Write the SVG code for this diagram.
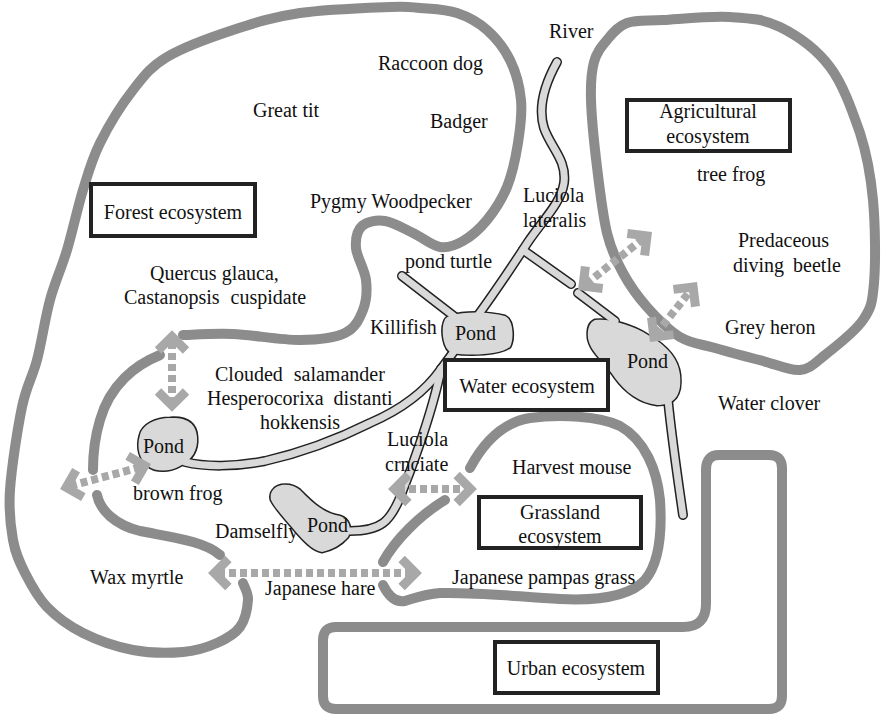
<svg xmlns="http://www.w3.org/2000/svg" xmlns:xlink="http://www.w3.org/1999/xlink" width="883" height="718" viewBox="0 0 883 718">
  <style>
    .bd { fill: none; stroke: #8c8c8c; stroke-width: 10; stroke-linecap: round; stroke-linejoin: round; }
    .box { fill: #fff; stroke: #222; stroke-width: 4; }
    .chO { fill: none; stroke: #222; stroke-width: 10; stroke-linecap: round; stroke-linejoin: round; }
    .chF { fill: none; stroke: #d9d9d9; stroke-width: 7; stroke-linecap: round; stroke-linejoin: round; }
    .pondO { fill: #d9d9d9; stroke: #222; stroke-width: 3; }
    .pondF { fill: #d9d9d9; stroke: none; }
    .dash { fill: none; stroke: #a8a8a8; stroke-width: 8; stroke-dasharray: 7 4; }
    .head { fill: none; stroke: #a8a8a8; stroke-width: 9; stroke-linejoin: miter; }
    .t { font-family: "Liberation Serif", "Times New Roman", serif; font-size: 20px; fill: #111; }
    .c { text-anchor: middle; }
  </style>
  <defs>
    <path id="chev" d="M-14,-14 L0,0 L-14,14"/>
    <path id="p1" d="M450,316 C465,311 490,312 505,316 C514,320 514,340 510,347 C500,355 470,356 452,353 C443,350 441,330 444,322 C445,318 447,317 450,316 Z"/>
    <path id="p2" d="M595,320 C610,318 635,326 648,335 C662,343 678,355 680,375 C682,395 675,405 657,405 C640,403 625,392 615,378 C605,362 590,352 588,338 C587,328 590,322 595,320 Z"/>
    <path id="p3" d="M140,435 C142,425 155,418 170,418 C185,417 196,422 197,437 C198,450 192,460 180,466 C170,472 155,472 148,466 C140,460 136,448 140,435 Z"/>
    <path id="p4" d="M273,490 C278,483 292,483 300,490 C310,500 322,513 340,516 C350,519 352,530 348,537 C342,544 332,550 322,552 C312,550 303,540 296,532 C288,522 276,510 271,500 C270,496 271,492 273,490 Z"/>
    <g id="rivers">
      <path d="M557,62 C547,80 537,105 544,128 C551,148 567,160 564,183 C561,203 543,220 528,242 C515,262 495,292 476,318"/>
      <path d="M523,250 L571,284"/>
      <path d="M578,293 L615,321"/>
      <path d="M402,276 L455,317"/>
      <path d="M455,350 L441,369"/>
      <path d="M441,369 C425,392 400,410 370,423 C340,438 300,453 265,461 C235,467 205,467 185,462"/>
      <path d="M441,369 C433,410 412,468 399,500 C390,520 382,531 350,531"/>
      <path d="M668,400 C672,440 678,480 683,515"/>
    </g>
  </defs>

  <!-- Forest ecosystem -->
  <g id="forest">
    <path class="bd" d="M183,335 C191.3,334.8 213.5,333.2 233,334 C252.5,334.8 281.3,340.2 300,340 C318.7,339.8 334.5,338 345,333 C355.5,328 359.5,318.8 363,310 C366.5,301.2 367.2,290.3 366,280 C364.8,269.7 356.7,257 356,248 C355.3,239 357.2,230.5 362,226 C366.8,221.5 376.5,219.8 385,221 C393.5,222.2 403.8,228.7 413,233 C422.2,237.3 431.7,245.7 440,247 C448.3,248.3 455.2,245.5 463,241 C470.8,236.5 479.7,229 487,220 C494.3,211 501.8,199.8 507,187 C512.2,174.2 515.7,157.5 518,143 C520.3,128.5 522.3,113.8 521,100 C519.7,86.2 515.7,71.7 510,60 C504.3,48.3 495.8,37.8 487,30 C478.2,22.2 468.2,16.7 457,13 C445.8,9.3 431.2,9 420,8 C408.8,7 410,6.2 390,7 C370,7.8 326.2,9.2 300,13 C273.8,16.8 255.2,22.7 233,30 C210.8,37.3 183.7,47 167,57 C150.3,67 144.2,75.7 133,90 C121.8,104.3 108.3,126.3 100,143 C91.7,159.7 88.5,172.2 83,190 C77.5,207.8 72.5,231.7 67,250 C61.5,268.3 55,281.7 50,300 C45,318.3 41.7,342.2 37,360 C32.3,377.8 26.5,385.3 22,407 C17.5,428.7 11.5,467.8 10,490 C8.5,512.2 10.5,526.2 13,540 C15.5,553.8 19.3,561.8 25,573 C30.7,584.2 37.3,597 47,607 C56.7,617 68.7,625.8 83,633 C97.3,640.2 116.3,646.8 133,650 C149.7,653.2 169,653.2 183,652 C197,650.8 207.5,647.2 217,643 C226.5,638.8 234.8,634.2 240,627 C245.2,619.8 247.5,607.3 248,600 C248.5,592.7 243.8,585.8 243,583"/>
    <path class="bd" d="M160,355 C135,365 110,385 100,420 C94,440 93,455 93,470"/>
    <path class="bd" d="M97,495 C100,510 115,525 140,531 C170,537 205,541 220,555"/>
    <rect class="box" x="91" y="184" width="164" height="52"/>
    <text class="t c" x="173" y="219">Forest ecosystem</text>
    <text class="t" x="378" y="70">Raccoon dog</text>
    <text class="t" x="253" y="117">Great tit</text>
    <text class="t" x="430" y="128">Badger</text>
    <text class="t" x="310" y="208">Pygmy Woodpecker</text>
    <text class="t" x="150" y="280">Quercus glauca,</text>
    <text class="t" x="124" y="304" word-spacing="6">Castanopsis cuspidate</text>
    <text class="t" x="215" y="381" word-spacing="6">Clouded salamander</text>
    <text class="t" x="207" y="405" word-spacing="5">Hesperocorixa distanti</text>
    <text class="t" x="260" y="429">hokkensis</text>
    <text class="t" x="133" y="500">brown frog</text>
    <text class="t" x="215" y="538">Damselfly</text>
    <text class="t" x="90" y="584">Wax myrtle</text>
    <text class="t" x="265" y="595">Japanese hare</text>
  </g>

  <!-- Agricultural ecosystem -->
  <g id="agricultural">
    <path class="bd" d="M627,23 C636.3,19.7 645.8,21 663,20 C680.2,19 710.5,15.8 730,17 C749.5,18.2 763.3,18.7 780,27 C796.7,35.3 816.7,49.3 830,67 C843.3,84.7 852.2,110.8 860,133 C867.2,155.2 870.7,175 873,200 C875.3,225 875.7,263 874,283 C872.3,303 871.2,308 863,320 C854.8,332 835.5,346.7 825,355 C814.5,363.3 810.3,369 800,370 C789.7,371 777.2,364.7 763,361 C748.8,357.3 728.8,352 715,348 C701.2,344 691.3,343.8 680,337 C668.7,330.2 656.5,317.7 647,307 C637.5,296.3 629.7,285.3 623,273 C616.3,260.7 611.3,250.7 607,233 C602.7,215.3 599.7,189.2 597,167 C594.3,144.8 591.5,117.5 591,100 C590.5,82.5 591.3,72 594,62 C596.7,52 601.5,46.5 607,40 C612.5,33.5 617.7,26.3 627,23 Z"/>
    <rect class="box" x="627" y="100" width="163" height="51"/>
    <text class="t c" x="708" y="118">Agricultural</text>
    <text class="t c" x="708" y="143">ecosystem</text>
    <text class="t" x="697" y="181">tree frog</text>
    <text class="t" x="738" y="247">Predaceous</text>
    <text class="t" x="733" y="272" word-spacing="4">diving beetle</text>
    <text class="t" x="725" y="334">Grey heron</text>
  </g>

  <!-- Grassland ecosystem -->
  <g id="grassland">
    <path class="bd" d="M383,585 C388,595 395,603 405,601 C415,598 425,594 440,593 C480,592 520,597 560,599 C600,601 630,596 645,580 C660,562 662,530 660,500 C657,470 645,440 620,426 C600,416 560,414 530,418 C505,422 485,440 470,468"/>
    <path class="bd" d="M383,562 C395,540 420,515 445,500"/>
    <rect class="box" x="479" y="497" width="162" height="51"/>
    <text class="t c" x="560" y="519">Grassland</text>
    <text class="t c" x="560" y="543">ecosystem</text>
    <text class="t" x="512" y="474">Harvest mouse</text>
    <text class="t" x="452" y="584">Japanese pampas grass</text>
  </g>

  <!-- Urban ecosystem -->
  <g id="urban">
    <path class="bd" d="M323,640 Q323,627 336,627 L683,627 Q706,627 706,604 L706,470 Q706,455 719,455 L769,455 Q782,455 782,468 L782,696 Q782,709 769,709 L336,709 Q323,709 323,696 Z"/>
    <rect class="box" x="495" y="642" width="163" height="51"/>
    <text class="t c" x="576" y="675">Urban ecosystem</text>
  </g>

  <!-- Water ecosystem: river channels and ponds -->
  <g id="water">
    <use xlink:href="#rivers" class="chO"/>
    <use xlink:href="#p1" class="pondO"/>
    <use xlink:href="#p2" class="pondO"/>
    <use xlink:href="#p3" class="pondO"/>
    <use xlink:href="#p4" class="pondO"/>
    <use xlink:href="#rivers" class="chF"/>
    <use xlink:href="#p1" class="pondF"/>
    <use xlink:href="#p2" class="pondF"/>
    <use xlink:href="#p3" class="pondF"/>
    <use xlink:href="#p4" class="pondF"/>
    <rect class="box" x="445" y="360" width="163" height="50"/>
    <text class="t c" x="527" y="393">Water ecosystem</text>
    <text class="t" x="455" y="340">Pond</text>
    <text class="t" x="627" y="368">Pond</text>
    <text class="t" x="143" y="453">Pond</text>
    <text class="t" x="307" y="532">Pond</text>
    <text class="t" x="549" y="38">River</text>
    <text class="t" x="523" y="202">Luciola</text>
    <text class="t" x="523" y="227">lateralis</text>
    <text class="t" x="405" y="268">pond turtle</text>
    <text class="t" x="370" y="334">Killifish</text>
    <text class="t" x="387" y="446">Luciola</text>
    <text class="t" x="385" y="471">crnciate</text>
    <text class="t" x="718" y="410">Water clover</text>
  </g>

  <!-- Two-way links between ecosystems -->
  <g id="connectors">
    <g>
      <line class="dash" x1="172" y1="342" x2="172" y2="402"/>
      <use xlink:href="#chev" class="head" transform="translate(172,336.5) rotate(-90)"/>
      <use xlink:href="#chev" class="head" transform="translate(172,405.5) rotate(90)"/>
    </g>
    <g>
      <line class="dash" x1="70" y1="486" x2="141" y2="467"/>
      <use xlink:href="#chev" class="head" transform="translate(66.2,487.3) rotate(165)"/>
      <use xlink:href="#chev" class="head" transform="translate(144.8,465.7) rotate(-15)"/>
    </g>
    <g>
      <line class="dash" x1="218" y1="573" x2="412" y2="573"/>
      <use xlink:href="#chev" class="head" transform="translate(214.4,573) rotate(180)"/>
      <use xlink:href="#chev" class="head" transform="translate(415.6,573) rotate(0)"/>
    </g>
    <g>
      <line class="dash" x1="398" y1="489" x2="467" y2="489"/>
      <use xlink:href="#chev" class="head" transform="translate(394.4,489) rotate(180)"/>
      <use xlink:href="#chev" class="head" transform="translate(470.6,489) rotate(0)"/>
    </g>
    <g>
      <line class="dash" x1="586" y1="284" x2="644" y2="238"/>
      <use xlink:href="#chev" class="head" transform="translate(583,286.1) rotate(141.9)"/>
      <use xlink:href="#chev" class="head" transform="translate(647,235.9) rotate(-38.1)"/>
    </g>
    <g>
      <line class="dash" x1="656" y1="334" x2="691" y2="290"/>
      <use xlink:href="#chev" class="head" transform="translate(653.9,337) rotate(128.1)"/>
      <use xlink:href="#chev" class="head" transform="translate(693.1,287) rotate(-51.9)"/>
    </g>
  </g>
</svg>
